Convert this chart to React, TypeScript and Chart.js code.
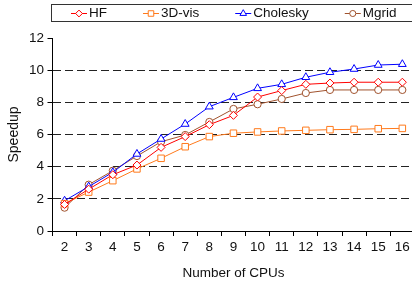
import React, { useEffect, useRef } from 'react';
import { Chart, registerables } from 'chart.js';

Chart.register(...registerables);

const cpus = ['2', '3', '4', '5', '6', '7', '8', '9', '10', '11', '12', '13', '14', '15', '16'];
const hf = [1.65, 2.6, 3.5, 4.1, 5.2, 5.87, 6.61, 7.19, 8.33, 8.73, 9.12, 9.2, 9.25, 9.25, 9.25];
const vis3d = [1.7, 2.42, 3.13, 3.86, 4.52, 5.24, 5.87, 6.08, 6.16, 6.22, 6.26, 6.3, 6.32, 6.36, 6.38];
const cholesky = [1.88, 2.76, 3.65, 4.79, 5.72, 6.65, 7.73, 8.31, 8.87, 9.12, 9.56, 9.87, 10.07, 10.32, 10.37];
const mgrid = [1.45, 2.88, 3.75, 4.66, 5.55, 5.97, 6.78, 7.59, 7.88, 8.21, 8.58, 8.77, 8.77, 8.77, 8.77];

const seriesNames = ['HF', '3D-vis', 'Cholesky', 'Mgrid'];
const seriesColors = ['#ff0000', '#ff7a1c', '#0000ff', '#a0522d'];
const seriesMarkers = ['rectRot', 'rect', 'triangle', 'circle'];
const seriesRadius = [4, 4.6, 4.5, 3.6];
const yTicks = [0, 2, 4, 6, 8, 10, 12];

const FONT = 'Arial, "Liberation Sans", Helvetica, sans-serif';
const TEXT = '#111';

function drawMarker(ctx: CanvasRenderingContext2D, style: string, x: number, y: number, r: number) {
  ctx.beginPath();
  if (style === 'circle') {
    ctx.arc(x, y, r, 0, Math.PI * 2);
  } else if (style === 'rect') {
    const s = r * Math.SQRT1_2;
    ctx.rect(x - s, y - s, 2 * s, 2 * s);
  } else if (style === 'rectRot') {
    ctx.moveTo(x, y - r);
    ctx.lineTo(x + r, y);
    ctx.lineTo(x, y + r);
    ctx.lineTo(x - r, y);
    ctx.closePath();
  } else if (style === 'triangle') {
    const a = (3 * r) / Math.sqrt(3);
    const h = (a * Math.sqrt(3)) / 2;
    ctx.moveTo(x - a / 2, y + h / 3);
    ctx.lineTo(x + a / 2, y + h / 3);
    ctx.lineTo(x, y - (2 * h) / 3);
    ctx.closePath();
  }
  ctx.fill();
  ctx.stroke();
}

const legendPlugin = {
  id: 'boxLegend',
  afterDraw(chart: any) {
    const ctx: CanvasRenderingContext2D = chart.ctx;
    ctx.save();
    ctx.strokeStyle = '#333';
    ctx.lineWidth = 1;
    ctx.strokeRect(51.5, 4.5, 380, 17);
    ctx.font = `13.5px ${FONT}`;
    ctx.textBaseline = 'middle';
    ctx.textAlign = 'left';
    let x = 71;
    const y = 13;
    seriesNames.forEach((name, i) => {
      ctx.strokeStyle = seriesColors[i];
      ctx.fillStyle = '#fff';
      ctx.lineWidth = 1;
      ctx.beginPath();
      ctx.moveTo(x, y + 0.5);
      ctx.lineTo(x + 16, y + 0.5);
      ctx.stroke();
      drawMarker(ctx, seriesMarkers[i], x + 8, y + 0.5, seriesRadius[i] * 0.85);
      ctx.fillStyle = TEXT;
      ctx.fillText(name, x + 18, y + 0.5);
      x += 18 + ctx.measureText(name).width + 36;
    });
    ctx.restore();
  },
};

const yTitlePlugin = {
  id: 'yTitle',
  afterDraw(chart: any) {
    const ctx: CanvasRenderingContext2D = chart.ctx;
    const area = chart.chartArea;
    ctx.save();
    ctx.translate(14.5, (area.top + area.bottom) / 2);
    ctx.rotate(-Math.PI / 2);
    ctx.font = `14px ${FONT}`;
    ctx.fillStyle = TEXT;
    ctx.textAlign = 'center';
    ctx.textBaseline = 'middle';
    ctx.fillText('Speedup', 0, 0);
    ctx.restore();
  },
};

export default function App() {
  const ref = useRef<HTMLCanvasElement>(null);

  useEffect(() => {
    const allData = [hf, vis3d, cholesky, mgrid];
    const chart = new Chart(ref.current!, {
      type: 'line',
      data: {
        labels: cpus,
        datasets: seriesNames.map((name, i) => ({
          label: name,
          data: allData[i],
          borderColor: seriesColors[i],
          backgroundColor: '#ffffff',
          borderWidth: 1,
          pointStyle: seriesMarkers[i] as any,
          pointRadius: seriesRadius[i],
          pointBorderWidth: 1,
          pointBorderColor: seriesColors[i],
          pointBackgroundColor: '#ffffff',
          tension: 0,
          fill: false,
        })),
      },
      options: {
        animation: false,
        responsive: false,
        devicePixelRatio: 1,
        layout: { padding: { left: 0, right: 5, top: 38, bottom: 0 } },
        plugins: {
          legend: { display: false },
          tooltip: { enabled: false },
        },
        scales: {
          x: {
            type: 'category',
            offset: true,
            grid: {
              display: true,
              offset: true,
              drawOnChartArea: false,
              drawTicks: true,
              tickLength: 5,
              tickColor: '#000',
              color: '#000',
            },
            border: { display: true, color: '#000', width: 1 },
            ticks: {
              autoSkip: false,
              maxRotation: 0,
              padding: 5,
              color: TEXT,
              font: { family: FONT, size: 13.5, lineHeight: 1 },
            },
            title: {
              display: true,
              text: 'Number of CPUs',
              color: TEXT,
              font: { family: FONT, size: 13.5 },
              padding: { top: 0, bottom: 3 },
            },
            afterFit: (s: any) => {
              s.height = 53;
            },
          },
          y: {
            min: 0,
            max: 12,
            afterBuildTicks: (s: any) => {
              s.ticks = yTicks.map((v) => ({ value: v }));
            },
            grid: {
              display: true,
              drawOnChartArea: true,
              drawTicks: true,
              tickLength: 5,
              tickColor: '#000',
              color: (c: any) =>
                c.tick && (c.tick.value === 0 || c.tick.value === 12) ? 'rgba(0,0,0,0)' : '#222',
            },
            border: { display: true, color: '#000', width: 1, dash: [8, 4] },
            ticks: {
              padding: 3.5,
              color: TEXT,
              font: { family: FONT, size: 13.5 },
            },
            title: { display: false },
            afterFit: (s: any) => {
              s.width = 52.5;
            },
          },
        },
      },
      plugins: [legendPlugin, yTitlePlugin],
    });
    return () => chart.destroy();
  }, []);

  return (
    <div
      style={{
        position: 'fixed',
        left: 0,
        top: 0,
        width: 412,
        height: 284,
        overflow: 'hidden',
        background: '#fff',
      }}
    >
      <canvas ref={ref} width={420} height={284} style={{ display: 'block', width: 420, height: 284 }} />
    </div>
  );
}
